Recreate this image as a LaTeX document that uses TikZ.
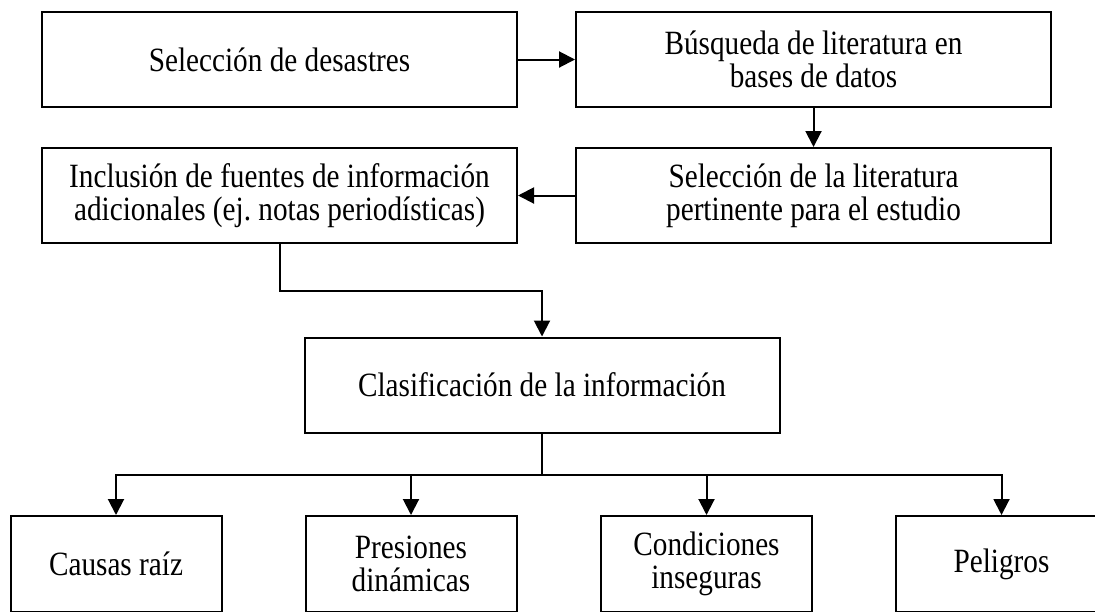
\documentclass[tikz,border=0pt]{standalone}
\usepackage{fontspec}
\setmainfont{Liberation Serif}[FakeStretch=0.86]
\usetikzlibrary{positioning}
\usetikzlibrary{arrows.meta}

\tikzset{
  box/.style={draw, line width=1pt, rectangle, align=center, inner sep=0pt,
    minimum width=237.5pt, minimum height=47.5pt,
    font=\fontsize{17}{16.5}\selectfont},
  leafbox/.style={box, minimum width=105.5pt, minimum height=48pt},
  arr/.style={line width=1pt, -{Triangle[length=8pt,width=8pt]}},
  wire/.style={line width=1pt},
}

\begin{document}
\begin{tikzpicture}[x=0.5pt, y=-0.5pt]

\useasboundingbox (0,0) rectangle (1095,611);
\clip (0,0) rectangle (1095,611);

%---------------------------------------
% Search steps
%---------------------------------------
\node[box] (sel) at (279.5,59.5) {Selección de desastres};
\node[box] (bus) at (813.5,59.5) {Búsqueda de literatura en\\bases de datos};
\node[box] (lit) at (813.5,195.5) {Selección de la literatura\\pertinente para el estudio};
\node[box] (inc) at (279.5,195.5) {Inclusión de fuentes de información\\adicionales (ej.\ notas periodísticas)};

% Classification
\node[box] (cla) at (542,385) {Clasificación de la información};

%---------------------------------------
% Categories
%---------------------------------------
\node[leafbox] (cau) at (116,564) {Causas raíz};
\node[leafbox] (pre) at (411,564) {Presiones\\dinámicas};
\node[leafbox] (con) at (706.5,564) {Condiciones\\inseguras};
\node[leafbox] (pel) at (1001.5,564) {Peligros};

% Arrows
\draw[arr] (sel) -- (bus);
\draw[arr] (bus) -- (lit);
\draw[arr] (lit) -- (inc);
\draw[arr] (inc.south) -- ++(0,47) -| (cla.north);

\draw[wire] (cla.south) -- ++(0,41) coordinate (br);
\foreach \k in {cau,pre,con,pel}
  \draw[arr] (br) -| (\k.north);

\end{tikzpicture}
\end{document}
